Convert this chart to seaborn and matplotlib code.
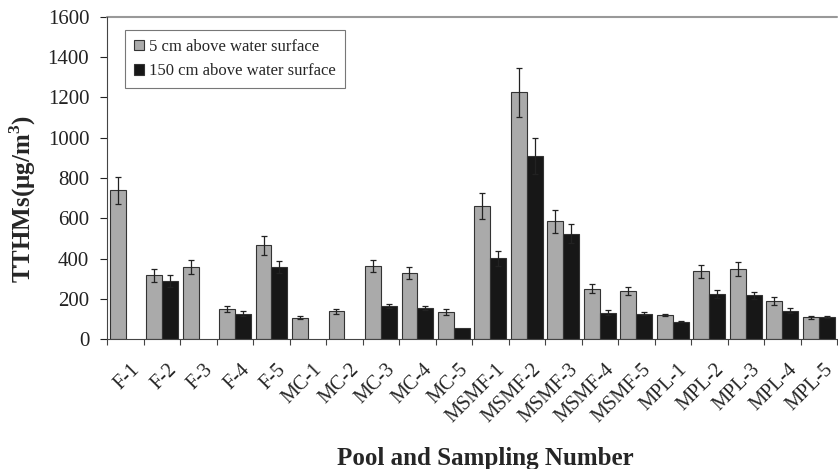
import numpy as np
import pandas as pd
import matplotlib
matplotlib.use("Agg")
import matplotlib.pyplot as plt
import matplotlib.transforms as mtrans
import seaborn as sns

samples = ["F-1", "F-2", "F-3", "F-4", "F-5",
           "MC-1", "MC-2", "MC-3", "MC-4", "MC-5",
           "MSMF-1", "MSMF-2", "MSMF-3", "MSMF-4", "MSMF-5",
           "MPL-1", "MPL-2", "MPL-3", "MPL-4", "MPL-5"]
low_vals = [738, 316, 359, 151, 466, 106, 139, 363, 329, 134,
            661, 1226, 586, 250, 240, 121, 336, 348, 190, 108]
low_err = [66, 33, 35, 15, 47, 8, 12, 31, 30, 13,
           66, 121, 57, 23, 20, 6, 32, 33, 19, 8]
high_vals = [np.nan, 288, np.nan, 127, 358, np.nan, np.nan, 164, 154, 55,
             401, 909, 523, 131, 127, 86, 224, 217, 141, 109]
high_err = [np.nan, 30, np.nan, 12, 31, np.nan, np.nan, 8, 10, 0,
            36, 88, 48, 13, 7, 3, 18, 17, 11, 4]
series = ["5 cm above water surface", "150 cm above water surface"]
colors = ["#aaaaaa", "#171717"]

df = pd.DataFrame({
    "sample": samples * 2,
    "height": [series[0]] * len(samples) + [series[1]] * len(samples),
    "value": low_vals + high_vals,
})
errs = {series[0]: low_err, series[1]: high_err}

sns.set_style("white")
plt.rcParams["font.family"] = ["Liberation Serif", "DejaVu Serif"]
plt.rcParams["mathtext.fontset"] = "custom"
plt.rcParams["mathtext.rm"] = "Liberation Serif"
plt.rcParams["mathtext.bf"] = "Liberation Serif:bold"

fig = plt.figure(figsize=(8.38, 4.69), dpi=100)
ax = fig.add_axes([0.128, 0.277, 0.871, 0.687])

sns.barplot(data=df, x="sample", y="value", hue="height", order=samples,
            hue_order=series, palette=colors, width=0.875, gap=0,
            edgecolor="#333333", linewidth=0.8, ax=ax, errorbar=None)

# error bars on top of each bar
for cont, name in zip(ax.containers, series):
    for bar in cont:
        h = bar.get_height()
        if np.isnan(h) or h == 0:
            continue
        xc = bar.get_x() + bar.get_width() / 2
        i = int(round(xc))
        e = errs[name][i]
        if e and not np.isnan(e):
            ax.errorbar(xc, h, yerr=e, fmt="none", ecolor="#222222",
                        elinewidth=0.9, capsize=2.5, capthick=0.9)

ax.set_xlim(-0.5, len(samples) - 0.5)
ax.set_ylim(0, 1600)
ax.set_yticks(range(0, 1601, 200))
ax.tick_params(axis="y", labelsize=15, direction="out", length=5, width=0.8,
               left=True, pad=8, colors="#222222")
ax.set_xticks(range(len(samples)))
ax.set_xticklabels(samples, rotation=45, ha="right", va="top",
                   rotation_mode="anchor", fontsize=14.5)
ax.tick_params(axis="x", length=0, pad=15)
shift = mtrans.ScaledTranslation(5 / 100, 0, fig.dpi_scale_trans)
for lbl in ax.get_xticklabels():
    lbl.set_transform(lbl.get_transform() + shift)
ax.set_xticks(np.arange(-0.5, len(samples), 1), minor=True)
ax.tick_params(axis="x", which="minor", direction="out", length=4, width=0.8,
               bottom=True, color="#444444")

ax.axhline(1600, color="#999999", lw=1.5, clip_on=False)
for s in ["right", "top"]:
    ax.spines[s].set_visible(False)
ax.spines["left"].set_color("#444444")
ax.spines["bottom"].set_color("#444444")

ax.set_xlabel("Pool and Sampling Number", fontsize=18, fontweight="bold")
ax.xaxis.set_label_coords(0.518, -0.335)
ax.set_ylabel("TTHMs(μg/m$^\\mathbf{3}$)", fontsize=18, fontweight="bold")
ax.yaxis.set_label_coords(-0.095, 0.435)

leg = ax.legend(loc="upper left", bbox_to_anchor=(0.024, 0.96), fontsize=12,
                frameon=True, fancybox=False, edgecolor="#555555",
                handlelength=0.6, handleheight=0.6, handletextpad=0.3,
                borderpad=0.55, labelspacing=0.5, borderaxespad=0)
leg.get_frame().set_linewidth(0.8)

fig.savefig("out.png", dpi=100)
